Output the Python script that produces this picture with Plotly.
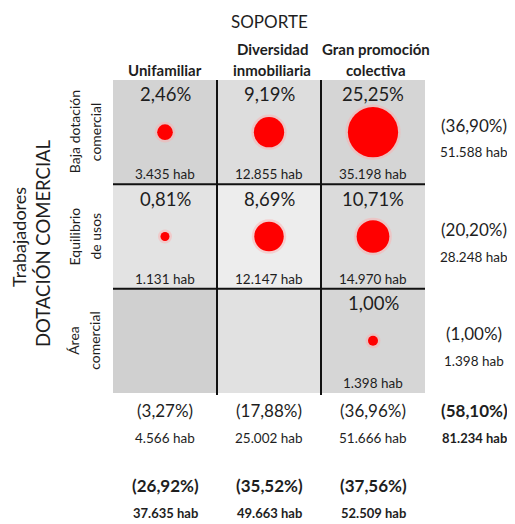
import math
import plotly.graph_objects as go

# ---------------- data ----------------
columns = ["Unifamiliar", "Diversidad<br>inmobiliaria", "Gran promoción<br>colectiva"]
rows = ["Baja dotación<br>comercial", "Equilibrio<br>de usos", "Área<br>comercial"]
cell_pct = [[2.46, 9.19, 25.25],
            [0.81, 8.69, 10.71],
            [None, None, 1.00]]
cell_hab = [[3435, 12855, 35198],
            [1131, 12147, 14970],
            [None, None, 1398]]
row_tot_pct = [36.90, 20.20, 1.00]
row_tot_hab = [51588, 28248, 1398]
col_tot_pct = [3.27, 17.88, 36.96]
col_tot_hab = [4566, 25002, 51666]
grand_pct = 58.10
grand_hab = 81234
soporte_pct = [26.92, 35.52, 37.56]
soporte_hab = [37635, 49663, 52509]
title_top = "SOPORTE"
title_left1 = "Trabajadores"
title_left2 = "DOTACIÓN COMERCIAL"

# ---------------- style ----------------
OFF = 8                       # page body margin
W, H = 515 - OFF, 524 - OFF
X0, CW = 113, 104.0           # screenshot pixel left edge of grid, column width
Y0, RH = 80, 104.33           # screenshot pixel top edge of grid, row height
cell_colors = [["#d3d3d3", "#dddddd", "#d5d5d5"],
               ["#e3e3e3", "#ededed", "#dbdbdb"],
               ["#d0d0d0", "#e1e1e1", "#d6d6d6"]]
FONT = "Lato, 'Open Sans', sans-serif"
TXT = "#1e1e1e"

def px2x(p):
    return (p - X0) / CW - 0.5

def px2y(p):
    return (p - Y0) / RH - 0.5

def fmt_pct(v):
    return f"{v:.2f}".replace(".", ",") + "%"

def fmt_hab(v):
    return f"{v:,}".replace(",", ".") + " hab"

fig = go.Figure()

# cells
shapes = []
for r in range(len(rows)):
    for c in range(len(columns)):
        shapes.append(dict(type="rect", xref="x", yref="y",
                           x0=c - 0.5, x1=c + 0.5, y0=r - 0.5, y1=r + 0.5,
                           fillcolor=cell_colors[r][c], line=dict(width=0),
                           layer="below"))
# interior grid lines
for c in range(1, len(columns)):
    shapes.append(dict(type="line", xref="x", yref="y", x0=c - 0.5, x1=c - 0.5,
                       y0=-0.5, y1=len(rows) - 0.5 + 0.02,
                       line=dict(color="#111111", width=2)))
for r in range(1, len(rows)):
    shapes.append(dict(type="line", xref="x", yref="y", y0=r - 0.5, y1=r - 0.5,
                       x0=-0.5, x1=len(columns) - 0.5,
                       line=dict(color="#111111", width=2)))

# bubbles (soft halo + solid core)
bx, by, bs = [], [], []
for r in range(len(rows)):
    for c in range(len(columns)):
        v = cell_pct[r][c]
        if v is not None:
            bx.append(c)
            by.append(r)
            bs.append(10 * math.sqrt(v))
fig.add_trace(go.Scatter(x=bx, y=by, mode="markers",
                         marker=dict(size=[s + 5 for s in bs], sizemode="diameter",
                                     color="rgba(255,170,170,0.45)", opacity=1,
                                     line=dict(width=0)),
                         hoverinfo="skip", showlegend=False))
fig.add_trace(go.Scatter(x=bx, y=by, mode="markers",
                         marker=dict(size=bs, sizemode="diameter", color="#ff0000",
                                     opacity=1, line=dict(width=0)),
                         hoverinfo="skip", showlegend=False))

ann = []
def add(text, x, y, size, bold=False, yshift=0, angle=0):
    t = f"<b>{text}</b>" if bold else text
    ann.append(dict(text=t, x=x, y=y, xref="x", yref="y", showarrow=False,
                    font=dict(family=FONT, size=size, color=TXT),
                    yshift=yshift, textangle=angle, xanchor="center", yanchor="middle"))

# cell texts
for r in range(len(rows)):
    for c in range(len(columns)):
        if cell_pct[r][c] is not None:
            add(fmt_pct(cell_pct[r][c]), c, r, 18.5, yshift=38)
            add(fmt_hab(cell_hab[r][c]), c, r, 13.5, yshift=-42)

# row totals
xr = px2x(474)
for r in range(len(rows)):
    add(f"({fmt_pct(row_tot_pct[r])})", xr, r, 17, yshift=7)
    add(fmt_hab(row_tot_hab[r]), xr, r, 13.5, yshift=-20)

# column totals
for c in range(len(columns)):
    add(f"({fmt_pct(col_tot_pct[c])})", c, px2y(410), 17)
    add(fmt_hab(col_tot_hab[c]), c, px2y(438), 13.5)
    add(f"({fmt_pct(soporte_pct[c])})", c, px2y(485), 17, bold=True)
    add(fmt_hab(soporte_hab[c]), c, px2y(513), 13, bold=True)
add(f"({fmt_pct(grand_pct)})", xr, px2y(410), 17, bold=True)
add(fmt_hab(grand_hab), xr, px2y(438), 13, bold=True)

# headers
add(title_top, 1, px2y(21), 17)
for c, lab in enumerate(columns):
    lines = lab.split("<br>")
    for k, line in enumerate(reversed(lines)):
        add(line, c + 0.03 * (c > 0), px2y(70 - 21 * k), 15, bold=True)

# left titles
add(title_left1, px2x(19), px2y(237), 18, angle=-90)
add(title_left2, px2x(43), px2y(243), 18.5, angle=-90)
for r, lab in enumerate(rows):
    l1, l2 = lab.split("<br>")
    add(l1, px2x(74), r, 14, angle=-90)
    add(l2, px2x(95), r, 14, angle=-90)

fig.update_layout(
    width=W, height=H, margin=dict(l=0, r=0, t=0, b=0),
    paper_bgcolor="white", plot_bgcolor="white",
    shapes=shapes, annotations=ann, showlegend=False,
    xaxis=dict(range=[px2x(OFF), px2x(OFF + W)], visible=False, fixedrange=True),
    yaxis=dict(range=[px2y(OFF + H), px2y(OFF)], visible=False, fixedrange=True),
)
fig.write_html("out.html")
